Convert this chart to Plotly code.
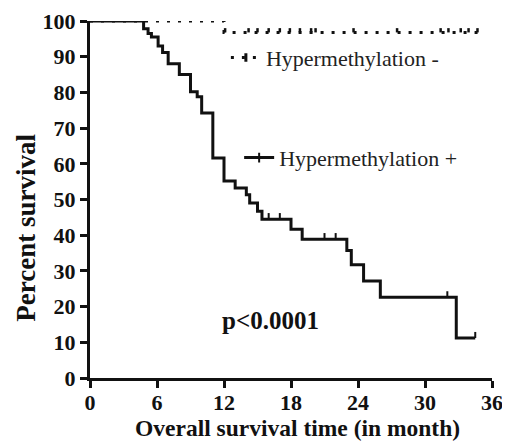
import plotly.graph_objects as go

# Hypermethylation + (solid step curve)
pos_time = [0, 4.8, 5.2, 5.5, 6.1, 6.5, 7.0, 8.0, 9.0, 9.6, 10.0, 11.0, 12.0, 13.0,
            14.0, 14.3, 15.0, 15.4, 18.0, 19.0, 23.0, 23.4, 24.5, 26.0, 32.8, 34.5]
pos_surv = [100, 97.8, 96.5, 95.5, 93.0, 91.2, 88.0, 85.0, 80.2, 78.8, 74.2, 61.6, 55.2, 53.2,
            51.3, 49.0, 46.7, 44.5, 41.7, 38.9, 35.7, 31.7, 27.2, 22.6, 11.2, 11.2]
pos_cens_time = [16.0, 17.0, 21.0, 22.0, 32.0, 34.5]
pos_cens_surv = [44.5, 44.5, 38.9, 38.9, 22.6, 11.2]

# Hypermethylation - (dotted step curve)
neg_time = [0, 12.0, 34.8]
neg_surv = [100, 96.8, 96.8]
neg_cens_time = [5.9, 9.7, 11.0, 11.3, 12.1, 14.2, 15.0, 16.0, 17.0, 17.9, 18.8, 19.8,
                 20.2, 23.6, 27.5, 31.4, 32.1, 33.2, 33.9, 34.7]
neg_cens_surv = [100, 100, 100, 100, 96.8, 96.8, 96.8, 96.8, 96.8, 96.8, 96.8, 96.8,
                 96.8, 96.8, 96.8, 96.8, 96.8, 96.8, 96.8, 96.8]

x_ticks = [0, 6, 12, 18, 24, 30, 36]
y_ticks = [0, 10, 20, 30, 40, 50, 60, 70, 80, 90, 100]

INK = "#111111"
SERIF = "Liberation Serif, Times New Roman, serif"
DOT = "3px,8px"

fig = go.Figure()

# dotted curve
fig.add_trace(go.Scatter(x=neg_time, y=neg_surv, mode="lines", line_shape="hv",
                         line=dict(color=INK, width=3, dash=DOT), showlegend=False,
                         cliponaxis=False))
fig.add_trace(go.Scatter(x=neg_cens_time, y=neg_cens_surv, mode="markers",
                         marker=dict(size=1, opacity=0),
                         error_y=dict(type="constant", value=1.2, valueminus=0, symmetric=False,
                                      width=0, thickness=2.5, color=INK),
                         showlegend=False, cliponaxis=False))
# solid curve
fig.add_trace(go.Scatter(x=pos_time, y=pos_surv, mode="lines", line_shape="hv",
                         line=dict(color=INK, width=3), showlegend=False, cliponaxis=False))
fig.add_trace(go.Scatter(x=pos_cens_time, y=pos_cens_surv, mode="markers",
                         marker=dict(size=1, opacity=0),
                         error_y=dict(type="constant", value=1.7, valueminus=0, symmetric=False,
                                      width=0, thickness=2, color=INK),
                         showlegend=False, cliponaxis=False))

# legend proxies
fig.add_trace(go.Scatter(x=[None], y=[None], mode="lines+markers", name="Hypermethylation -",
                         line=dict(color=INK, width=3, dash=DOT),
                         marker=dict(symbol="line-ns", size=6, line=dict(color=INK, width=3)),
                         legend="legend"))
fig.add_trace(go.Scatter(x=[None], y=[None], mode="lines+markers", name="Hypermethylation +",
                         line=dict(color=INK, width=3),
                         marker=dict(symbol="line-ns", size=7, line=dict(color=INK, width=2)),
                         legend="legend2"))

axis_common = dict(showline=True, linecolor=INK, linewidth=3, ticks="outside",
                   ticklen=7, tickwidth=2.5, tickcolor=INK, showgrid=False, zeroline=False,
                   automargin=False,
                   tickfont=dict(family=SERIF, size=22, color=INK, weight="bold"))

# page body has an 8px margin, so the figure is 8px smaller than the window
fig.update_layout(
    width=502, height=436,
    margin=dict(l=82, r=18, t=13, b=65.5),
    paper_bgcolor="white", plot_bgcolor="white",
    xaxis=dict(range=[0, 36], tickvals=x_ticks, ticktext=[str(v) for v in x_ticks],
               ticklabelstandoff=-4, **axis_common),
    yaxis=dict(range=[0, 100], tickvals=y_ticks, ticktext=[str(v) for v in y_ticks],
               **axis_common),
    legend=dict(x=0.338, y=0.897, xanchor="left", yanchor="middle", borderwidth=0,
                bgcolor="rgba(0,0,0,0)", font=dict(family=SERIF, size=22, color="#222222")),
    legend2=dict(x=0.371, y=0.617, xanchor="left", yanchor="middle", borderwidth=0,
                 bgcolor="rgba(0,0,0,0)", font=dict(family=SERIF, size=22, color="#222222")),
    annotations=[
        dict(text="<b>p<0.0001</b>", x=0.448, y=0.119, xref="paper", yref="paper",
             showarrow=False, font=dict(family=SERIF, size=25, color=INK)),
        dict(text="<b>Overall survival time (in month)</b>", x=0.515, y=0, xref="paper",
             yref="paper", yshift=-49.5, xanchor="center", yanchor="middle",
             showarrow=False, font=dict(family=SERIF, size=23.5, color=INK)),
        dict(text="<b>Percent survival</b>", x=0, y=0.421, xref="paper", yref="paper",
             xshift=-64, xanchor="center", yanchor="middle", textangle=-90,
             showarrow=False, font=dict(family=SERIF, size=27, color=INK)),
    ],
)

fig.write_html("out.html")
